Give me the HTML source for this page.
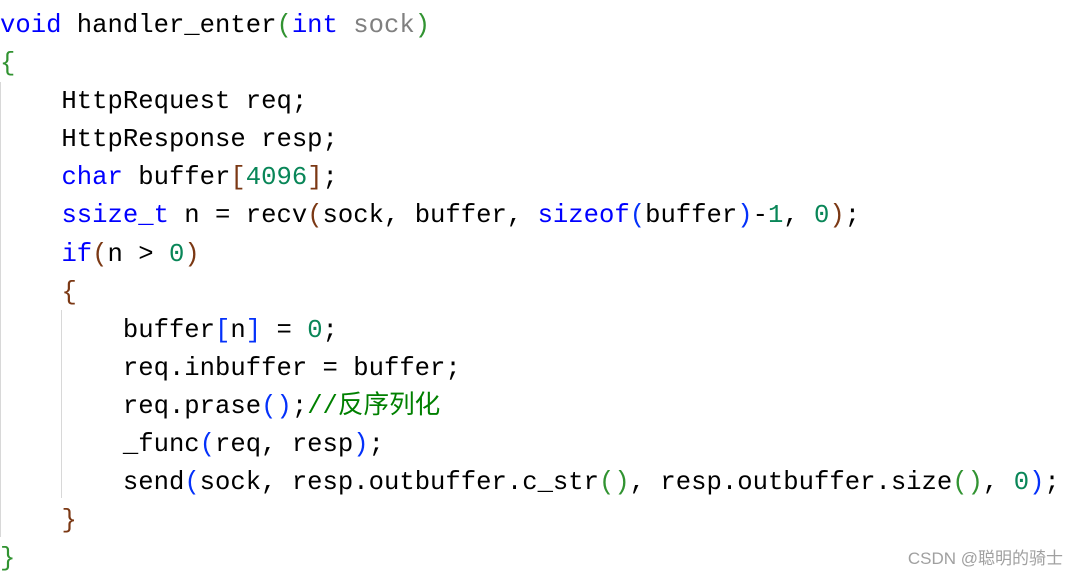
<!DOCTYPE html>
<html><head><meta charset="utf-8"><style>
html,body{margin:0;padding:0;background:#fff;width:1077px;height:577px;overflow:hidden;position:relative}
pre{position:absolute;left:0;top:7px;margin:0;font-family:"Liberation Mono","Noto Sans CJK SC",monospace;font-size:25.6px;line-height:38.1px;color:#000}
.k{color:#0000ff}.g{color:#808080}.n{color:#098658}.c{color:#008000}
.b1{color:#319331}.b2{color:#7b3814}.b3{color:#0431fa}
.guide{position:absolute;width:1px;background:#d8d8d8}
.wm{position:absolute;right:14px;bottom:8px;font-family:"Liberation Sans","Noto Sans CJK SC",sans-serif;font-size:17px;color:#a0a0a0}
</style></head><body>
<div class="guide" style="left:0;top:82px;height:455px"></div>
<div class="guide" style="left:61px;top:310px;height:188px"></div>
<pre><span class="k">void</span> handler_enter<span class="b1">(</span><span class="k">int</span> <span class="g">sock</span><span class="b1">)</span>
<span class="b1">{</span>
    HttpRequest req;
    HttpResponse resp;
    <span class="k">char</span> buffer<span class="b2">[</span><span class="n">4096</span><span class="b2">]</span>;
    <span class="k">ssize_t</span> n = recv<span class="b2">(</span>sock, buffer, <span class="k">sizeof</span><span class="b3">(</span>buffer<span class="b3">)</span>-<span class="n">1</span>, <span class="n">0</span><span class="b2">)</span>;
    <span class="k">if</span><span class="b2">(</span>n &gt; <span class="n">0</span><span class="b2">)</span>
    <span class="b2">{</span>
        buffer<span class="b3">[</span>n<span class="b3">]</span> = <span class="n">0</span>;
        req.inbuffer = buffer;
        req.prase<span class="b3">()</span>;<span class="c">//反序列化</span>
        _func<span class="b3">(</span>req, resp<span class="b3">)</span>;
        send<span class="b3">(</span>sock, resp.outbuffer.c_str<span class="b1">()</span>, resp.outbuffer.size<span class="b1">()</span>, <span class="n">0</span><span class="b3">)</span>;
    <span class="b2">}</span>
<span class="b1">}</span></pre>
<div class="wm">CSDN @聪明的骑士</div>
</body></html>
